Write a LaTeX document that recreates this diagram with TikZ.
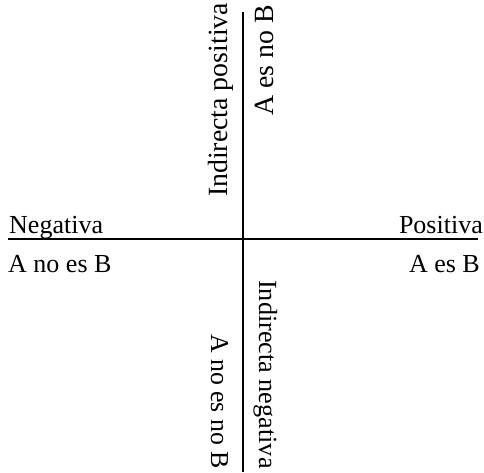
\documentclass[tikz,border=0pt]{standalone}
\usepackage{fontspec}
\setmainfont{Liberation Serif}
\usepackage{tikz}
\usetikzlibrary{positioning,calc}

\tikzset{
  axis/.style={line width=1.8pt},
  hlabel/.style={inner sep=0pt, anchor=base west, font=\fontsize{26}{30}\selectfont},
  vlabel/.style={inner sep=0pt, anchor=base west, font=\fontsize{27.8}{32}\selectfont}
}

\begin{document}
\begin{tikzpicture}[x=1pt, y=1pt]
  \useasboundingbox (0,0) rectangle (484,-472);
  \clip (0,0) rectangle (484,-472);

  % Axes
  \coordinate (west) at (8,-239);
  \coordinate (east) at (478,-239);
  \coordinate (north) at (243,-12);
  \coordinate (south) at (243,-472);
  \draw[axis] (west) -- (east);
  \draw[axis] (north) -- (south);

  % Left and right ends
  \node[hlabel] (neg) at (9,-233) {Negativa};
  \node[hlabel] (negex) at (8,-272) {A no es B};
  \node[hlabel, anchor=base east] (pos) at (483,-233) {Positiva};
  \node[hlabel, anchor=base east] (posex) at (480,-272) {A es B};

  % Upper half
  \node[vlabel, rotate=90] (indpos) at (227,-197) {Indirecta positiva};
  \node[vlabel, rotate=90] (indposex) at (273,-116) {A es no B};

  % Lower half (shrunk a little to stay on the page)
  \node[vlabel, rotate=-90, font=\fontsize{26.2}{30}\selectfont] (indneg) at (259,-280) {Indirecta negativa};
  \node[vlabel, rotate=-90, font=\fontsize{25.8}{30}\selectfont] (indnegex) at (211,-334) {A no es no B};
\end{tikzpicture}
\end{document}
